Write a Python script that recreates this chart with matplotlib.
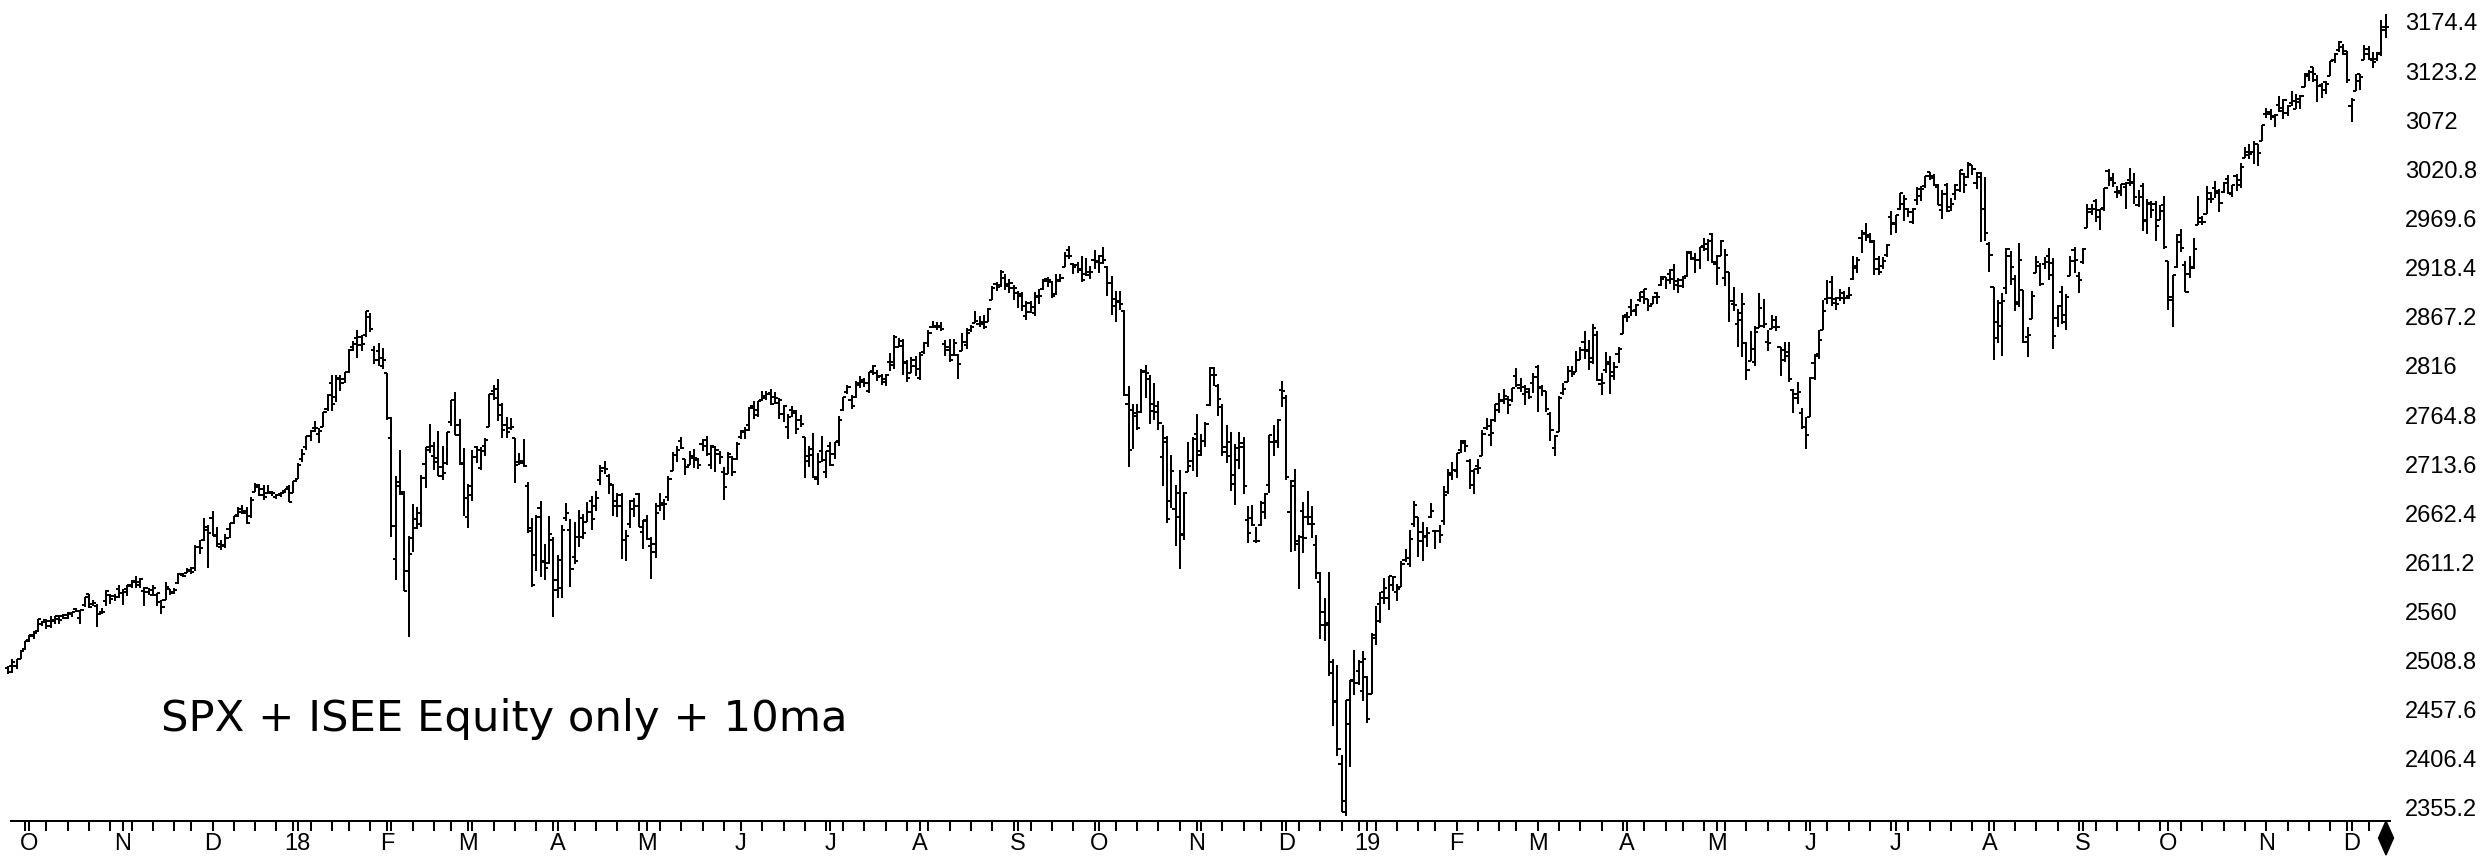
import matplotlib
matplotlib.use("Agg")
import matplotlib.pyplot as plt
import numpy as np
import pandas as pd
from matplotlib.patches import Polygon

# ---------------- data: daily SPX bars (open, high, low, close) ----------------
sep17 = [(2501,2503,2495,2497),(2503,2511,2496,2507),(2503,2510,2500,2510),(2511,2520,2510,2519)]
oct17 = [(2521,2529,2520,2529),(2530,2535,2528,2535),(2534,2540,2531,2538),(2540,2552,2539,2552),
         (2547,2550,2545,2549),(2551,2552,2542,2545),(2550,2555,2543,2551),(2550,2555,2547,2555),
         (2552,2556,2547,2551),(2555,2557,2552,2553),(2556,2559,2552,2558),(2557,2560,2554,2559),
         (2563,2564,2559,2561),(2553,2562,2547,2562),(2567,2575,2565,2575),(2578,2578,2564,2565),
         (2568,2572,2566,2569),(2566,2568,2544,2557),(2560,2564,2557,2560),(2571,2582,2566,2581),
         (2577,2578,2568,2573),(2576,2578,2571,2575)]
nov17 = [(2583,2588,2574,2579),(2579,2583,2567,2580),(2583,2588,2576,2588),(2587,2593,2585,2591),
         (2592,2597,2584,2591),(2588,2595,2585,2594),(2581,2586,2566,2585),(2580,2584,2577,2582),
         (2577,2588,2576,2585),(2577,2579,2566,2579),(2570,2572,2557,2565),(2572,2591,2572,2586),
         (2583,2583,2577,2579),(2580,2585,2578,2582),(2590,2600,2589,2599),(2598,2600,2596,2597),
         (2600,2605,2600,2602),(2603,2606,2599,2601),(2605,2629,2602,2627),(2627,2634,2620,2626),
         (2634,2657,2633,2648)]
dec17 = [(2645,2650,2605,2642),(2657,2665,2639,2639),(2640,2648,2627,2630),(2627,2635,2624,2629),
         (2628,2641,2626,2637),(2646,2652,2637,2652),(2652,2660,2651,2660),(2661,2669,2659,2664),
         (2667,2671,2662,2663),(2665,2669,2651,2652),(2660,2679,2657,2676),(2685,2694,2685,2690),
         (2692,2693,2680,2681),(2688,2692,2676,2679),(2684,2692,2682,2685),(2684,2686,2680,2683),
         (2679,2682,2677,2681),(2682,2685,2679,2683),(2686,2688,2684,2688),(2690,2692,2674,2674)]
jan18 = [(2684,2696,2683,2696),(2698,2715,2698,2713),(2719,2729,2716,2724),(2731,2743,2728,2743),
         (2743,2749,2738,2748),(2751,2759,2747,2751),(2745,2751,2736,2748),(2752,2768,2752,2768),
         (2771,2787,2769,2786),(2798,2807,2769,2776),(2784,2807,2778,2803),(2802,2806,2790,2798),
         (2802,2810,2798,2810),(2810,2834,2809,2833),(2836,2842,2831,2839),(2845,2853,2824,2838),
         (2846,2848,2831,2839),(2848,2873,2846,2873),(2867,2871,2851,2854),(2833,2837,2818,2822),
         (2832,2840,2816,2824)]
feb18 = [(2816,2835,2813,2822),(2809,2809,2760,2762),(2741,2763,2638,2649),(2615,2701,2593,2695),
         (2691,2728,2681,2682),(2685,2686,2581,2581),(2602,2639,2533,2620),(2637,2672,2622,2656),
         (2647,2669,2646,2663),(2651,2702,2648,2699),(2714,2731,2689,2731),(2728,2755,2725,2732),
         (2722,2737,2707,2716),(2720,2748,2701,2701),(2711,2732,2697,2704),(2715,2747,2713,2747),
         (2757,2780,2753,2780),(2780,2789,2744,2744),(2754,2761,2713,2714)]
mar18 = [(2715,2730,2660,2678),(2659,2693,2647,2691),(2681,2728,2675,2721),(2731,2732,2715,2728),
         (2710,2731,2707,2727),(2733,2741,2722,2739),(2752,2787,2752,2787),(2790,2796,2780,2783),
         (2792,2802,2759,2765),(2775,2777,2741,2749),(2754,2763,2741,2747),(2751,2762,2749,2752),
         (2741,2741,2694,2713),(2716,2725,2713,2717),(2715,2740,2711,2712),(2691,2695,2642,2644),
         (2647,2657,2586,2588),(2619,2661,2602,2659),(2668,2675,2596,2613),(2612,2630,2593,2605),
         (2611,2660,2609,2641)]
apr18 = [(2634,2638,2554,2582),(2593,2619,2574,2614),(2585,2650,2574,2645),(2657,2673,2654,2663),
         (2645,2656,2586,2604),(2617,2653,2610,2613),(2638,2666,2627,2657),(2638,2662,2636,2642),
         (2653,2674,2653,2664),(2675,2680,2645,2656),(2670,2686,2665,2678),(2697,2713,2692,2706),
         (2710,2717,2703,2709),(2701,2703,2682,2693),(2692,2693,2660,2670),(2675,2683,2659,2670),
         (2681,2684,2615,2635),(2635,2645,2613,2639),(2651,2676,2647,2667),(2675,2678,2659,2670),
         (2682,2683,2648,2648)]
may18 = [(2643,2655,2625,2655),(2654,2661,2635,2636),(2628,2638,2594,2630),(2622,2673,2616,2663),
         (2670,2683,2665,2673),(2671,2677,2655,2672),(2679,2701,2675,2698),(2706,2726,2706,2723),
         (2723,2733,2716,2728),(2738,2742,2729,2730),(2719,2719,2702,2711),(2713,2727,2713,2722),
         (2720,2729,2710,2720),(2718,2720,2709,2713),(2735,2740,2727,2733),(2739,2743,2722,2724),
         (2713,2734,2708,2733),(2731,2732,2705,2728),(2724,2727,2714,2721),(2705,2711,2676,2690),
         (2703,2726,2703,2724),(2721,2722,2701,2705)]
jun18 = [(2719,2737,2718,2735),(2742,2749,2740,2747),(2748,2752,2740,2749),(2754,2773,2748,2772),
         (2774,2779,2761,2770),(2765,2779,2763,2779),(2780,2790,2779,2782),(2785,2790,2780,2787),
         (2788,2792,2775,2776),(2784,2789,2776,2782),(2777,2782,2761,2780),(2766,2775,2758,2774),
         (2752,2766,2740,2763),(2770,2774,2763,2767),(2769,2770,2745,2750),(2760,2765,2752,2755),
         (2742,2742,2699,2717),(2722,2733,2711,2723),(2729,2746,2699,2700),(2698,2725,2692,2716),
         (2727,2743,2716,2718)]
jul18 = [(2705,2727,2699,2727),(2733,2737,2712,2713),(2724,2737,2719,2737),(2738,2764,2733,2760),
         (2770,2784,2769,2784),(2789,2796,2787,2794),(2780,2786,2771,2774),(2784,2800,2783,2798),
         (2796,2805,2793,2801),(2799,2803,2794,2798),(2790,2810,2788,2810),(2811,2817,2806,2816),
         (2809,2812,2800,2804),(2805,2808,2796,2802),(2799,2808,2795,2807),(2820,2829,2811,2820),
         (2817,2848,2813,2846),(2836,2845,2836,2837),(2842,2844,2806,2819),(2820,2822,2799,2803),
         (2809,2825,2809,2816)]
aug18 = [(2822,2826,2805,2813),(2803,2830,2801,2827),(2830,2841,2828,2840),(2840,2853,2836,2850),
         (2856,2863,2855,2858),(2857,2862,2853,2858),(2857,2862,2852,2854),(2839,2843,2826,2833),
         (2836,2844,2820,2822),(2827,2844,2826,2840),(2827,2828,2802,2818),(2831,2850,2831,2841),
         (2838,2855,2834,2850),(2853,2859,2851,2857),(2861,2873,2861,2863),(2860,2868,2857,2862),
         (2860,2869,2854,2857),(2862,2876,2862,2875),(2885,2899,2885,2897),(2901,2903,2894,2898),
         (2900,2916,2898,2914),(2908,2912,2895,2901),(2899,2907,2892,2902)]
sep18 = [(2897,2900,2885,2897),(2892,2894,2876,2889),(2891,2893,2873,2878),(2868,2884,2864,2872),
         (2882,2884,2871,2877),(2871,2893,2868,2888),(2889,2896,2880,2889),(2896,2907,2895,2904),
         (2907,2909,2898,2905),(2903,2904,2887,2889),(2891,2912,2890,2904),(2906,2912,2903,2908),
         (2919,2935,2919,2931),(2937,2941,2927,2930),(2922,2923,2912,2919),(2921,2924,2913,2916),
         (2917,2931,2903,2906),(2912,2928,2910,2914),(2911,2920,2907,2914)]
oct18 = [(2926,2937,2917,2925),(2924,2932,2913,2923),(2931,2940,2922,2926),(2919,2920,2889,2902),
         (2902,2910,2869,2886),(2878,2894,2862,2884),(2883,2894,2874,2880),(2873,2874,2785,2786),
         (2776,2795,2711,2728),(2770,2776,2729,2767),(2764,2776,2749,2751),(2768,2813,2767,2810),
         (2811,2817,2782,2809),(2802,2806,2755,2769),(2776,2798,2760,2768),(2774,2779,2749,2756),
         (2721,2754,2691,2741),(2737,2743,2652,2656),(2675,2723,2668,2706),(2667,2692,2628,2659),
         (2683,2707,2604,2641),(2640,2685,2635,2683),(2705,2737,2705,2712)]
nov18 = [(2717,2742,2706,2740),(2745,2766,2700,2723),(2727,2745,2722,2738),(2738,2757,2731,2755),
         (2775,2815,2774,2814),(2806,2815,2795,2807),(2795,2797,2764,2781),(2773,2776,2722,2726),
         (2731,2754,2715,2722),(2737,2747,2686,2702),(2693,2735,2671,2730),(2718,2747,2709,2736),
         (2731,2742,2682,2691),(2655,2670,2631,2642),(2657,2671,2649,2650),(2633,2648,2631,2633),
         (2650,2675,2649,2673),(2664,2683,2656,2682),(2692,2744,2684,2744),(2737,2754,2722,2738),
         (2737,2761,2730,2760)]
dec18 = [(2791,2800,2773,2790),(2783,2786,2697,2700),(2664,2697,2622,2696),(2691,2709,2623,2633),
         (2630,2640,2583,2638),(2665,2674,2621,2637),(2658,2686,2650,2651),(2658,2670,2637,2651),
         (2629,2640,2594,2600),(2591,2601,2531,2546),(2559,2574,2529,2546),(2548,2601,2493,2507),
         (2496,2510,2441,2467),(2466,2504,2409,2417),(2401,2410,2351,2351),(2363,2468,2347,2468),
         (2443,2489,2398,2489),(2488,2520,2473,2486),(2498,2509,2483,2507)]
jan19 = [(2477,2519,2467,2510),(2492,2493,2444,2448),(2474,2538,2474,2532),(2535,2566,2525,2550),
         (2568,2580,2548,2574),(2580,2595,2568,2585),(2574,2597,2562,2597),(2588,2597,2581,2596),
         (2580,2589,2571,2583),(2586,2613,2586,2610),(2614,2625,2612,2616),(2609,2645,2606,2636),
         (2651,2675,2648,2671),(2658,2658,2617,2633),(2643,2653,2613,2639),(2638,2648,2627,2642),
         (2658,2673,2657,2665),(2644,2644,2625,2644),(2644,2650,2631,2640),(2654,2691,2650,2681),
         (2685,2708,2682,2704)]
feb19 = [(2702,2716,2697,2707),(2706,2725,2699,2725),(2728,2739,2725,2738),(2736,2739,2726,2732),
         (2717,2719,2688,2706),(2692,2708,2682,2708),(2712,2719,2703,2710),(2722,2749,2722,2745),
         (2751,2762,2749,2753),(2744,2761,2733,2746),(2760,2776,2757,2776),(2770,2788,2767,2780),
         (2779,2792,2776,2785),(2781,2785,2766,2775),(2780,2793,2778,2793),(2805,2814,2794,2796),
         (2793,2803,2789,2794),(2787,2796,2775,2792),(2789,2793,2781,2784)]
mar19 = [(2798,2809,2788,2804),(2815,2817,2768,2793),(2794,2796,2785,2790),(2790,2790,2768,2771),
         (2766,2768,2738,2749),(2730,2744,2722,2743),(2747,2785,2747,2783),(2788,2798,2786,2792),
         (2799,2816,2799,2811),(2811,2816,2804,2808),(2810,2831,2810,2822),(2822,2836,2822,2833),
         (2841,2852,2823,2833),(2831,2843,2812,2824),(2820,2860,2818,2855),(2848,2852,2800,2801),
         (2797,2809,2786,2798),(2812,2830,2809,2818),(2820,2826,2787,2805),(2810,2820,2801,2815),
         (2828,2836,2819,2834)]
apr19 = [(2849,2869,2849,2867),(2869,2872,2862,2867),(2877,2886,2868,2873),(2874,2881,2868,2879),
         (2885,2893,2883,2893),(2888,2896,2880,2896),(2886,2886,2873,2878),(2881,2889,2880,2888),
         (2892,2893,2881,2888),(2900,2910,2899,2907),(2909,2909,2896,2906),(2912,2917,2901,2907),
         (2916,2922,2895,2900),(2904,2908,2892,2905),(2899,2910,2897,2908),(2910,2936,2909,2934),
         (2935,2936,2926,2927),(2928,2934,2913,2926),(2926,2940,2917,2940),(2941,2949,2936,2943),
         (2938,2948,2925,2946)]
may19 = [(2953,2955,2923,2924),(2922,2932,2900,2918),(2930,2947,2930,2946),(2908,2938,2899,2932),
         (2914,2914,2862,2884),(2880,2898,2873,2879),(2860,2875,2836,2871),(2864,2892,2825,2881),
         (2840,2841,2801,2812),(2821,2852,2821,2834),(2820,2858,2816,2851),(2855,2892,2855,2876),
         (2858,2886,2855,2860),(2841,2853,2832,2840),(2854,2869,2854,2864),(2856,2868,2852,2856),
         (2836,2836,2805,2822),(2833,2841,2820,2826),(2830,2841,2799,2802),(2791,2792,2767,2783),
         (2787,2799,2776,2789),(2767,2772,2750,2752)]
jun19 = [(2752,2763,2729,2744),(2763,2804,2763,2803),(2819,2828,2801,2826),(2828,2853,2823,2843),
         (2853,2885,2853,2873),(2886,2905,2880,2887),(2903,2910,2878,2886),(2882,2888,2874,2880),
         (2887,2896,2884,2892),(2887,2894,2880,2887),(2889,2898,2886,2890),(2907,2931,2905,2918),
         (2920,2929,2913,2926),(2949,2958,2934,2954),(2953,2965,2946,2950),(2952,2954,2944,2945),
         (2946,2947,2911,2917),(2927,2930,2911,2914),(2920,2929,2917,2925),(2932,2943,2929,2942)]
jul19 = [(2971,2977,2952,2964),(2965,2973,2955,2973),(2979,2996,2978,2996),(2985,2994,2967,2990),
         (2980,2981,2971,2976),(2966,2981,2964,2980),(2989,3002,2984,2993),(3000,3003,2988,3000),
         (3003,3014,3001,3014),(3018,3018,3010,3014),(3012,3016,3003,3004),(3002,3006,2984,2984),
         (2978,2999,2969,2995),(3005,3007,2976,2977),(2982,2991,2977,2985),(2995,3006,2989,3005),
         (2999,3020,2997,3020),(3016,3017,2996,3004),(3013,3028,3012,3026),(3025,3025,3015,3021),
         (3007,3018,3000,3013),(3017,3018,2945,2980)]
aug19 = [(2980,3013,2946,2954),(2943,2945,2914,2932),(2898,2898,2822,2845),(2862,2885,2840,2882),
         (2858,2892,2826,2884),(2897,2939,2891,2938),(2930,2936,2900,2919),(2907,2911,2873,2883),
         (2880,2944,2877,2926),(2895,2895,2840,2841),(2846,2857,2825,2848),(2865,2894,2865,2889),
         (2913,2931,2913,2924),(2920,2923,2899,2901),(2922,2929,2917,2924),(2931,2939,2905,2923),
         (2911,2928,2834,2847),(2866,2879,2857,2878),(2893,2899,2860,2869),(2862,2891,2853,2888),
         (2910,2930,2910,2925),(2937,2940,2913,2926)]
sep19 = [(2910,2914,2892,2906),(2924,2939,2922,2938),(2960,2985,2960,2976),(2980,2985,2973,2979),
         (2988,2990,2966,2978),(2971,2979,2958,2979),(2981,3001,2977,3001),(3019,3021,3003,3010),
         (3012,3017,3002,3007),(2997,3003,2991,2998),(2996,3006,2993,3006),(3002,3008,2979,3007),
         (3010,3022,3003,3007),(3008,3017,2985,2992),(2984,2999,2982,2992),(3003,3007,2957,2967),
         (2968,2990,2953,2985),(2986,2988,2970,2978),(2985,2988,2946,2962),(2968,2984,2968,2977)]
oct19 = [(2984,2993,2938,2940),(2925,2925,2874,2888),(2885,2911,2856,2911),(2919,2953,2918,2952),
         (2945,2959,2935,2939),(2921,2925,2893,2893),(2912,2930,2908,2919),(2918,2949,2917,2938),
         (2963,2993,2963,2970),(2966,2972,2963,2966),(2974,3003,2974,2996),(2990,2997,2986,2990),
         (3001,3009,2991,2998),(2996,3000,2976,2986),(2997,3008,2996,3007),(3011,3015,2995,2996),
         (2995,3005,2992,3005),(3014,3016,2998,3010),(3004,3027,3001,3023),(3033,3044,3033,3039),
         (3036,3047,3032,3037),(3039,3050,3026,3047),(3047,3047,3024,3038)]
nov19 = [(3050,3067,3050,3067),(3079,3085,3074,3078),(3081,3084,3072,3075),(3076,3079,3065,3077),
         (3088,3097,3081,3085),(3082,3094,3073,3093),(3080,3088,3076,3087),(3090,3103,3087,3092),
         (3084,3099,3084,3094),(3091,3098,3084,3097),(3107,3121,3107,3120),(3118,3124,3113,3122),
         (3128,3128,3112,3120),(3114,3119,3091,3108),(3109,3111,3095,3104),(3112,3113,3099,3110),
         (3118,3134,3118,3134),(3135,3142,3132,3141),(3145,3155,3143,3154),(3148,3151,3140,3141)]
dec19 = [(3144,3144,3111,3114),(3087,3095,3070,3093),(3103,3120,3103,3113),(3120,3120,3104,3117),
         (3135,3150,3135,3146),(3141,3149,3135,3136),(3135,3143,3126,3133),(3136,3143,3134,3142),
         (3141,3176,3139,3169),(3166,3183,3158,3169)]

months = [sep17, oct17, nov17, dec17, jan18, feb18, mar18, apr18, may18, jun18, jul18, aug18,
          sep18, oct18, nov18, dec18, jan19, feb19, mar19, apr19, may19, jun19, jul19, aug19,
          sep19, oct19, nov19, dec19]
month_labels = ["", "O", "N", "D", "18", "F", "M", "A", "M", "J", "J", "A", "S",
                "O", "N", "D", "19", "F", "M", "A", "M", "J", "J", "A", "S", "O", "N", "D"]
holidays = ["2017-11-23", "2017-12-25", "2018-01-01", "2018-01-15", "2018-02-19", "2018-03-30",
            "2018-05-28", "2018-07-04", "2018-09-03", "2018-11-22", "2018-12-05", "2018-12-25",
            "2019-01-01", "2019-01-21", "2019-02-18", "2019-04-19", "2019-05-27", "2019-07-04",
            "2019-09-02", "2019-11-28"]
first_day, last_day = "2017-09-26", "2019-12-13"
ytick_values = [2355.2, 2406.4, 2457.6, 2508.8, 2560.0, 2611.2, 2662.4, 2713.6, 2764.8,
                2816.0, 2867.2, 2918.4, 2969.6, 3020.8, 3072.0, 3123.2, 3174.4]
title_text = "SPX + ISEE Equity only + 10ma"

# ---------------- layout (pixels) ----------------
W, H = 2484, 858
AX_RIGHT = 2390       # right edge of plot area
AX_BOTTOM = 821       # axis line
PX_DAY = 4.261
X0_PX = 8             # pixel of first bar
Y_TOP_LABEL_PX, Y_BOT_LABEL_PX = 22, 808
PT = 72 / 100         # points per pixel

ohlc = np.array([row for m in months for row in m], dtype=float)
n = len(ohlc)
xs = np.arange(n)

dates = pd.bdate_range(first_day, last_day, freq="C", holidays=holidays)[:n]

fig = plt.figure(figsize=(W / 100, H / 100), dpi=100)
fig.patch.set_facecolor("white")
ax = fig.add_axes([0, (H - AX_BOTTOM) / H, AX_RIGHT / W, AX_BOTTOM / H])
ax.set_facecolor("white")

ax.set_xlim(-X0_PX / PX_DAY, (AX_RIGHT - X0_PX) / PX_DAY)
vpp = (ytick_values[-1] - ytick_values[0]) / (Y_BOT_LABEL_PX - Y_TOP_LABEL_PX)
ax.set_ylim(ytick_values[-1] - (AX_BOTTOM - Y_TOP_LABEL_PX) * vpp,
            ytick_values[-1] + Y_TOP_LABEL_PX * vpp)

bar_lw = 2.0 * PT
tick_lw = 2.0 * PT
vl = ax.vlines(xs, ohlc[:, 2], ohlc[:, 1], color="black", lw=bar_lw, antialiased=False)
ol = ax.hlines(ohlc[:, 0], xs - 0.75, xs, color="black", lw=tick_lw, antialiased=False)
cl = ax.hlines(ohlc[:, 3], xs, xs + 0.75, color="black", lw=tick_lw, antialiased=False)
for c in (vl, ol, cl):
    c.set_capstyle("butt")

# spines
for s in ("top", "left", "right"):
    ax.spines[s].set_visible(False)
ax.spines["bottom"].set_linewidth(2 * PT)
ax.spines["bottom"].set_bounds(0.6, ax.get_xlim()[1])

# weekly ticks (first trading day of each week) and month ticks (one bar after month start)
lengths = [len(m) for m in months]
month_starts = np.cumsum([0] + lengths[:-1])
week_starts = [i for i in range(1, len(dates))
               if dates[i].isocalendar()[1] != dates[i - 1].isocalendar()[1]]
labelled = [(ms + 1, lab) for ms, lab in zip(month_starts, month_labels) if lab]
month_pos = [p for p, _ in labelled]
major = sorted(set(week_starts) | set(month_pos))
ax.xaxis.remove_overlapping_locs = False
ax.set_xticks(major)
ax.set_xticklabels([])
ax.set_xticks(month_pos, minor=True)
ax.set_xticklabels([lab for _, lab in labelled], minor=True,
                   fontfamily="Liberation Sans", fontsize=17)
ax.tick_params(axis="x", which="major", direction="out", length=10 * PT, width=2 * PT,
               color="black")
ax.tick_params(axis="x", which="minor", length=0, pad=9)

# y labels on the right
ax.yaxis.tick_right()
ax.set_yticks(ytick_values)
ax.set_yticklabels([f"{v:.1f}".rstrip("0").rstrip(".") for v in ytick_values],
                   fontfamily="Liberation Sans", fontsize=17)
ax.tick_params(axis="y", which="both", length=0, pad=11)

# title text inside chart
fig.text(161 / W, (H - 731) / H, title_text, fontfamily="DejaVu Sans",
         fontsize=31.2, va="baseline", ha="left", color="black")

# diamond marker at the right end of the axis
cx, cy, hw, hh = 2386, 838, 7.5, 17
diamond = Polygon([(cx / W, (H - (cy - hh)) / H), ((cx + hw) / W, (H - cy) / H),
                   (cx / W, (H - (cy + hh)) / H), ((cx - hw) / W, (H - cy) / H)],
                  closed=True, transform=fig.transFigure, facecolor="black",
                  edgecolor="black", clip_on=False)
fig.patches.append(diamond)

fig.savefig("out.png", dpi=100, facecolor="white")
